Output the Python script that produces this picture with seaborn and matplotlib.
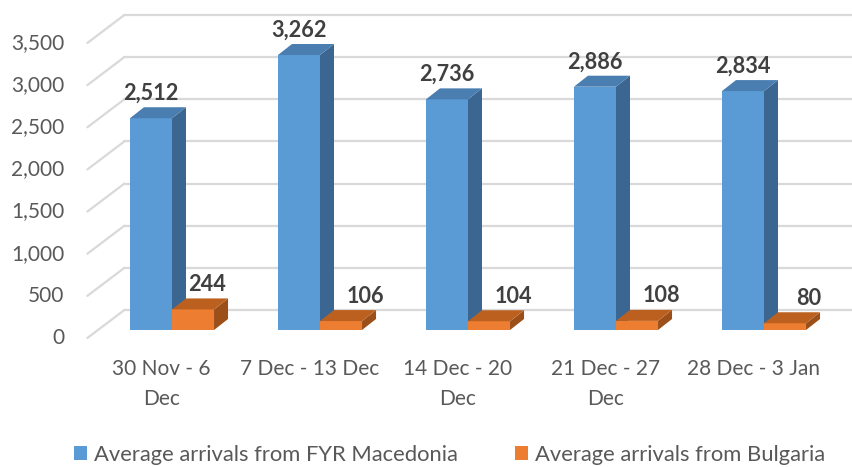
import numpy as np
import pandas as pd
import matplotlib
matplotlib.use("Agg")
import matplotlib.pyplot as plt
import matplotlib.transforms as mtransforms
from matplotlib.patches import Polygon, Patch
import seaborn as sns

# ---- data ----
categories = ["30 Nov - 6\nDec", "7 Dec - 13 Dec", "14 Dec - 20\nDec", "21 Dec - 27\nDec", "28 Dec - 3 Jan"]
series_names = ["Average arrivals from FYR Macedonia", "Average arrivals from Bulgaria"]
macedonia = [2512, 3262, 2736, 2886, 2834]
bulgaria = [244, 106, 104, 108, 80]
y_ticks = [0, 500, 1000, 1500, 2000, 2500, 3000, 3500]

front_colors = ["#5B9BD5", "#ED7D31"]
side_colors = ["#3B6691", "#9C4F19"]
top_colors = ["#4A7DB0", "#BC601F"]
grid_color = "#D9D9D9"
text_color = "#595959"
label_color = "#404040"

sns.set_theme(style="white")
plt.rcParams["font.family"] = ["Lato", "DejaVu Sans"]

W, H, DPI = 852, 467, 100
fig = plt.figure(figsize=(W / DPI, H / DPI), dpi=DPI)

# axes = plane where bar fronts stand
px_per_unit = 0.0843
ymax = 3700
ax_left, ax_w = 98, 740
ax_bottom = H - 330
ax_h = ymax * px_per_unit
ax = fig.add_axes([ax_left / W, ax_bottom / H, ax_w / W, ax_h / H])

df = pd.DataFrame({
    "period": categories * 2,
    "series": [series_names[0]] * len(categories) + [series_names[1]] * len(categories),
    "value": macedonia + bulgaria,
})
sns.barplot(data=df, x="period", y="value", hue="series", order=categories,
            hue_order=series_names, palette=front_colors, saturation=1,
            width=0.568, gap=0, linewidth=0, legend=False, ax=ax, zorder=3)
ax.set_xlim(-0.5, len(categories) - 0.5)
ax.set_ylim(0, ymax)
ax.axis("off")

def offset(dx_px, dy_px):
    return ax.transData + mtransforms.ScaledTranslation(dx_px / DPI, dy_px / DPI, fig.dpi_scale_trans)

# planes (pixel offsets relative to bar plane)
front_dx, front_dy = -10.6, -8
back_dx, back_dy = 26.4, 20
depth_dx, depth_dy = 14, 11
xl, xr = -0.5, len(categories) - 0.5

ux = (xr - xl) / ax_w
uy = ymax / ax_h

# back-wall gridlines and side diagonals
for t in y_ticks:
    ax.plot([xl, xr + 0.3], [t, t], transform=offset(back_dx, back_dy), color=grid_color,
            lw=1.6, zorder=1, clip_on=False)
    x0 = xl + front_dx * ux
    y0 = t + front_dy * uy
    x1 = xl + back_dx * ux
    y1 = t + back_dy * uy
    ax.plot([x0, x1], [y0, y1], color=grid_color, lw=1.6, zorder=1, clip_on=False)
    ax.text(xl, t, f"{t:,}", transform=offset(front_dx - 23, front_dy), ha="right", va="center",
            fontsize=15, color=text_color)

# x category labels on front plane
for i, c in enumerate(categories):
    ax.text(i, 0, c, transform=offset(front_dx, front_dy - 21), ha="center", va="top",
            fontsize=15, color=text_color, linespacing=1.62)

# 3D faces from seaborn bars
ddx = depth_dx * ux
ddy = depth_dy * uy
bars = [p for p in ax.patches]
n = len(categories)
for k, p in enumerate(bars):
    s = k // n
    x0 = p.get_x()
    w = p.get_width()
    h = p.get_height()
    top = Polygon([(x0, h), (x0 + w, h), (x0 + w + ddx, h + ddy), (x0 + ddx, h + ddy)],
                  closed=True, facecolor=top_colors[s], edgecolor="none", zorder=3)
    side = Polygon([(x0 + w, 0), (x0 + w + ddx, ddy), (x0 + w + ddx, h + ddy), (x0 + w, h)],
                   closed=True, facecolor=side_colors[s], edgecolor="none", zorder=2.5 if s == 0 else 3)
    ax.add_patch(side)
    ax.add_patch(top)
    cx = x0 + w / 2
    if s == 0:
        lx = 0
    else:
        lx = 14 if h > 200 else 24
    ax.text(cx, h, f"{int(round(h)):,}", transform=offset(lx, depth_dy + 14),
            ha="center", va="center", fontsize=15.6, fontweight="bold", color=label_color, zorder=5)

# legend
handles = [Patch(facecolor=front_colors[i], edgecolor="none", label=series_names[i]) for i in range(2)]
fig.legend(handles=handles, loc="center", bbox_to_anchor=(449.5 / W, 1 - 455 / H), ncol=2,
           frameon=False, fontsize=15.8, handlelength=0.6, handleheight=0.6, handletextpad=0.32,
           columnspacing=2.6, labelcolor=text_color, borderaxespad=0, borderpad=0)

fig.savefig("out.png", dpi=DPI)
